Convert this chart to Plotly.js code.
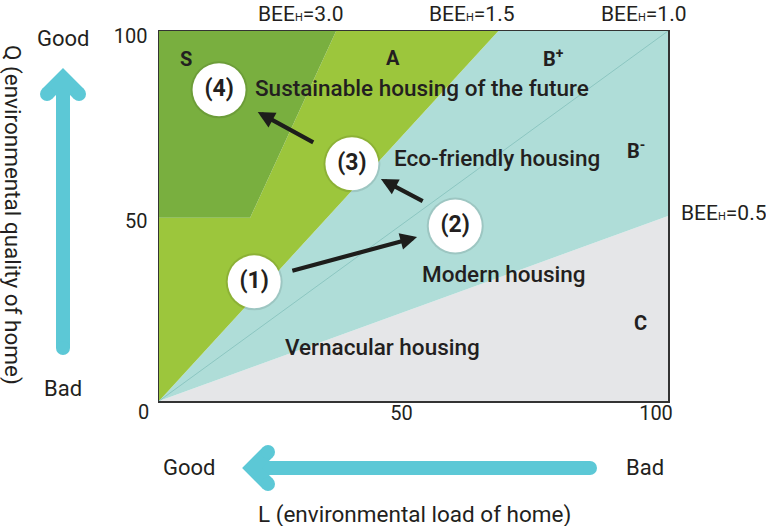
<!DOCTYPE html>
<html><head><meta charset="utf-8">
<script src="https://cdn.plot.ly/plotly-3.0.1.min.js"></script>
<style>html,body{margin:0;padding:0;background:#fff;}#chart{width:766px;height:526px;}</style>
</head><body><div id="chart"></div>
<script>
// ---------- data ----------
const beeValues = [3.0, 1.5, 1.0, 0.5];
const beeText = ['3.0', '1.5', '1.0', '0.5'];
const rankLabels = ['S', 'A', 'B<sup>+</sup>', 'B<sup>-</sup>', 'C'];
const housingNames = ['Modern housing', 'Eco-friendly housing', 'Sustainable housing of the future', 'Vernacular housing'];
const pointLabels = ['(1)', '(2)', '(3)', '(4)'];
const pointL = [18.7, 58.2, 37.9, 11.8];
const pointQ = [32.2, 47.3, 64.1, 84.1];
// S region corners
const sRegionL = [0, 17.9, 34.8, 0];
const sRegionQ = [49.5, 49.5, 100, 100];
const xTickVals = [50, 100];
const xTickText = ['50', '100'];
const yTickVals = [50, 100];
const yTickText = ['50', '100'];
// arrows between stages
const stepFromL = [25.9, 52.1, 30.6];
const stepFromQ = [35.1, 53.8, 69.7];
const stepToL = [50.7, 43.6, 19.4];
const stepToQ = [44.3, 60.0, 78.1];

// ---------- geometry helpers ----------
const W = 766, H = 526, ml = 159, mr = 98, mt = 31, mb = 125;
const pw = W - ml - mr, ph = H - mt - mb;
const PX = x => (x - ml) / pw;
const PY = y => (H - mb - y) / ph;
const lAt = (bee, q) => q / bee;

const FONT = 'Roboto, "Open Sans", sans-serif';
const TXT = '#231f20';
const CYAN = '#5cc8d6';

const b05 = beeValues[3], b10 = beeValues[2], b15 = beeValues[1];
const beeLabel = i => 'BEE<span style="font-size:11px">H</span>=' + beeText[i];

const traces = [
  { x: [0, 100, 100], y: [0, 0, 100 * b05], fill: 'toself', mode: 'lines',
    fillcolor: '#e5e6e8', line: { width: 0 }, hoverinfo: 'skip', showlegend: false },
  { x: [0, 100, 100, lAt(b15, 100)], y: [0, 100 * b05, 100, 100], fill: 'toself', mode: 'lines',
    fillcolor: '#afddd8', line: { width: 0 }, hoverinfo: 'skip', showlegend: false },
  { x: [0, lAt(b15, 100), sRegionL[2], sRegionL[1], 0], y: [0, 100, 100, sRegionQ[1], sRegionQ[0]],
    fill: 'toself', mode: 'lines', fillcolor: '#9cc63c', line: { width: 0 }, hoverinfo: 'skip', showlegend: false },
  { x: sRegionL, y: sRegionQ, fill: 'toself', mode: 'lines',
    fillcolor: '#79af3f', line: { width: 0 }, hoverinfo: 'skip', showlegend: false },
  { x: [0, 100], y: [0, 100 * b10], mode: 'lines', line: { color: '#8cc6c1', width: 1 },
    hoverinfo: 'skip', showlegend: false },
  { x: pointL, y: pointQ, mode: 'markers', hoverinfo: 'skip', showlegend: false,
    marker: { size: 57, color: 'rgba(0,0,0,0.10)' } },
  { x: pointL, y: pointQ, mode: 'markers+text', text: pointLabels, textposition: 'middle center',
    textfont: { family: FONT, size: 23, color: TXT, weight: 700 }, hoverinfo: 'skip', showlegend: false,
    marker: { size: 53, color: '#ffffff' } }
];

const annotations = [];
const topLabelPx = [301, 472, 644];
for (let i = 0; i < 3; i++) {
  annotations.push({ x: PX(topLabelPx[i]), xref: 'paper', y: PY(14), yref: 'paper', text: beeLabel(i),
    showarrow: false, xanchor: 'center', yanchor: 'middle', font: { family: FONT, size: 21, color: TXT } });
}
annotations.push({ x: PX(679), xref: 'paper', y: 50.8, yref: 'y', text: beeLabel(3),
  showarrow: false, xanchor: 'left', yanchor: 'middle', font: { family: FONT, size: 21, color: TXT } });

const rankPos = [[5.3, 92.4, 'center'], [46.0, 92.7, 'center'], [75.0, 92.7, 'left'], [91.6, 67.8, 'left'], [94.5, 21.1, 'center']];
rankLabels.forEach((t, i) => annotations.push({ x: rankPos[i][0], y: rankPos[i][1], text: '<b>' + t + '</b>', showarrow: false,
  xanchor: rankPos[i][2], yanchor: 'middle', font: { family: FONT, size: 20, color: TXT } }));

const namePos = [[51.3, 34.3], [45.8, 65.7], [18.5, 84.6], [24.4, 14.6]];
housingNames.forEach((t, i) => annotations.push({ x: namePos[i][0], y: namePos[i][1], text: t, showarrow: false,
  xanchor: 'left', yanchor: 'middle', font: { family: FONT, size: 22.5, color: TXT, weight: 500 } }));

for (let i = 0; i < stepFromL.length; i++) {
  annotations.push({ x: stepToL[i], y: stepToQ[i], ax: stepFromL[i], ay: stepFromQ[i], axref: 'x', ayref: 'y',
    xref: 'x', yref: 'y', text: '', showarrow: true, arrowhead: 2, arrowsize: 0.8, arrowwidth: 4.2,
    arrowcolor: '#1d1d1b', standoff: 0, startstandoff: 0 });
}

annotations.push({ x: 0, y: 0, text: '0', showarrow: false, xanchor: 'center', yanchor: 'middle',
  xshift: -16, yshift: -11, font: { family: FONT, size: 20, color: TXT } });

const gb = { family: FONT, size: 22, color: TXT };
const pt = (x, y, t, extra) => Object.assign({ x: PX(x), y: PY(y), xref: 'paper', yref: 'paper', text: t,
  showarrow: false, xanchor: 'center', yanchor: 'middle', font: gb }, extra || {});
annotations.push(pt(63, 38, 'Good'));
annotations.push(pt(63, 388, 'Bad'));
annotations.push(pt(189, 467, 'Good'));
annotations.push(pt(645, 467, 'Bad'));
annotations.push(pt(414, 514, 'L (environmental load of home)', { font: { family: FONT, size: 22.5, color: TXT } }));
annotations.push(pt(13, 215, 'Q (environmental quality of home)', { textangle: 90, font: { family: FONT, size: 22.5, color: TXT } }));

const shapes = [];
const seg = (pts) => 'M' + pts.map(p => PX(p[0]) + ',' + PY(p[1])).join('L');
const lineStyle = { color: CYAN, width: 14 };
const cap = (x, y) => ({ type: 'circle', xref: 'paper', yref: 'paper', xsizemode: 'pixel', ysizemode: 'pixel',
  xanchor: PX(x), yanchor: PY(y), x0: -7, x1: 7, y0: -7, y1: 7, fillcolor: CYAN, line: { width: 0 } });
shapes.push({ type: 'path', xref: 'paper', yref: 'paper', path: seg([[63, 348], [63, 80]]), line: lineStyle });
shapes.push({ type: 'path', xref: 'paper', yref: 'paper', path: seg([[47, 94], [63, 78], [79, 94]]), line: lineStyle });
shapes.push(cap(63, 348), cap(47, 94), cap(79, 94));
shapes.push({ type: 'path', xref: 'paper', yref: 'paper', path: seg([[590, 468], [254, 468]]), line: lineStyle });
shapes.push({ type: 'path', xref: 'paper', yref: 'paper', path: seg([[268, 452], [252, 468], [268, 484]]), line: lineStyle });
shapes.push(cap(590, 468), cap(268, 452), cap(268, 484));

const axisCommon = { range: [0, 100], showgrid: false, zeroline: false, showline: true, mirror: true,
  linecolor: '#333333', linewidth: 1.5, ticks: '', fixedrange: true,
  tickfont: { family: FONT, size: 20, color: TXT } };

const layout = {
  width: W, height: H,
  margin: { l: ml, r: mr, t: mt, b: mb },
  paper_bgcolor: '#ffffff', plot_bgcolor: '#ffffff',
  showlegend: false,
  xaxis: Object.assign({}, axisCommon, { tickvals: xTickVals, ticktext: xTickText, ticklabelshift: -12, ticklabelstandoff: -7 }),
  yaxis: Object.assign({}, axisCommon, { tickvals: yTickVals, ticktext: yTickText, ticklabelshift: 5, ticklabelstandoff: 6 }),
  annotations: annotations,
  shapes: shapes
};

Plotly.newPlot('chart', traces, layout, { staticPlot: true, displayModeBar: false });
</script>
</body></html>
